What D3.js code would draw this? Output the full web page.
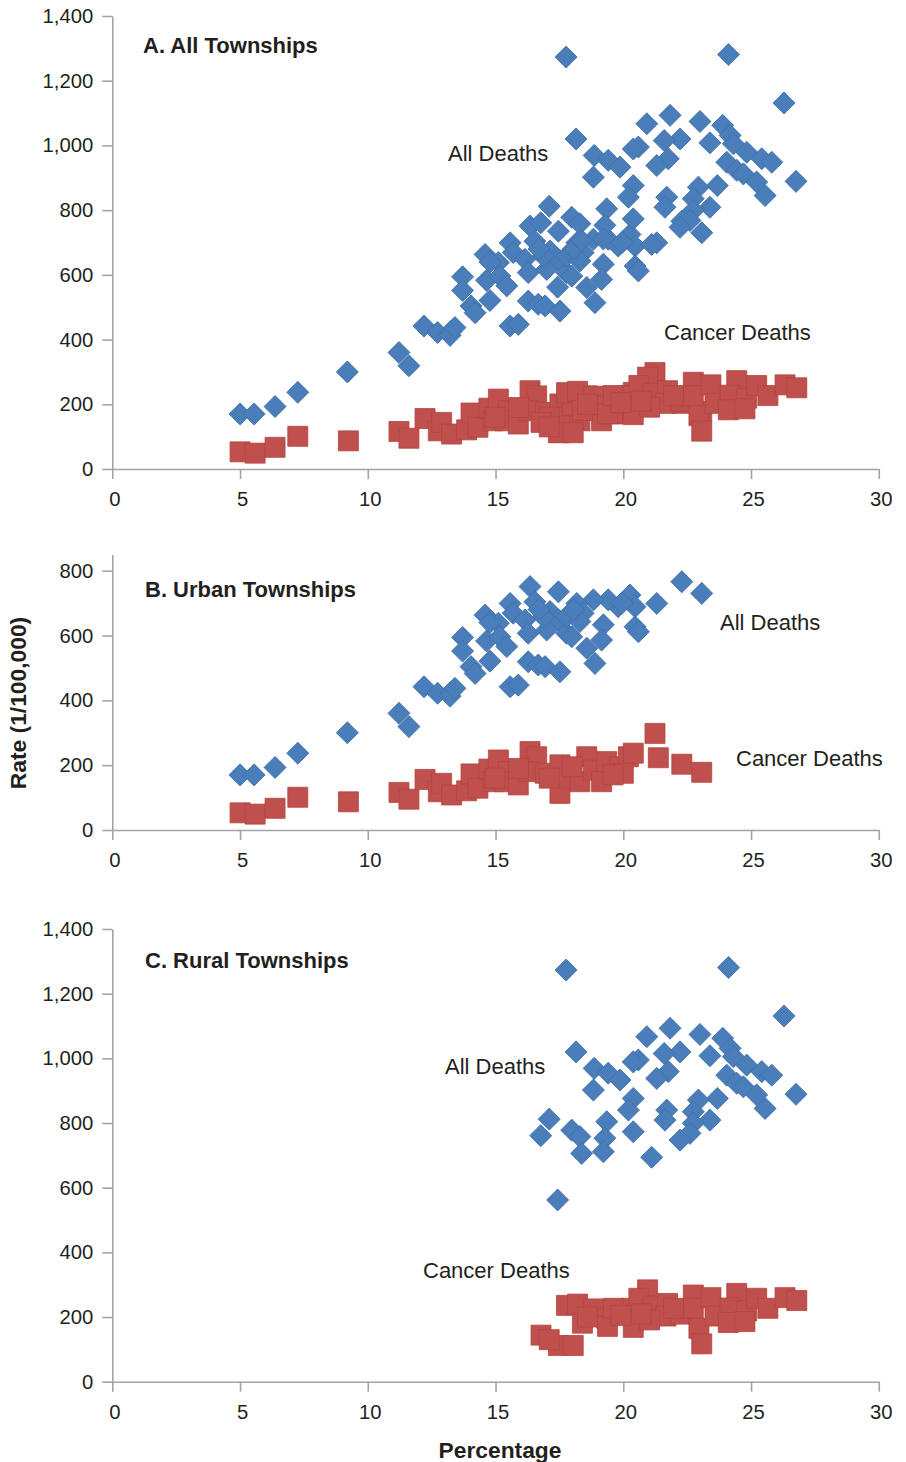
<!DOCTYPE html>
<html>
<head>
<meta charset="utf-8">
<script src="https://cdn.jsdelivr.net/npm/d3@7"></script>
<style>
  html, body { margin: 0; padding: 0; background: #fff; }
  svg { display: block; font-family: "Liberation Sans", Arial, sans-serif; }
</style>
</head>
<body>
<svg id="chart" width="906" height="1462"></svg>
<script>
// ---- Data (x = Percentage, y = Rate per 100,000) ----
const urbanAllDeaths = [
  [5.00,170],[5.55,170],[6.37,193],[7.26,237],[9.20,300],[11.22,360],[11.61,319],
  [12.20,442],[12.73,422],[13.26,426],[13.22,413],[13.41,437],[13.71,594],[13.71,552],
  [14.04,504],[14.20,483],[14.59,663],[14.65,583],[14.78,521],[15.57,442],[15.89,447],
  [15.11,638],[15.17,596],[15.57,699],[15.69,669],[15.44,566],[16.35,751],[16.54,704],
  [16.15,648],[16.28,607],[16.28,519],[16.67,509],[16.94,504],[17.46,735],[17.13,674],
  [17.46,648],[17.00,617],[17.52,488],[17.78,607],[22.29,766],[23.07,730],[21.31,699],
  [20.26,725],[20.46,689],[19.80,689],[19.41,710],[18.83,710],[18.18,699],[20.46,627],
  [20.59,612],[19.22,633],[19.15,586],[18.57,561],[18.89,514],[17.98,596],[17.78,658],
  [18.43,669],[16.87,658],[18.30,643],[14.78,640],[16.70,680],[18.05,680],[19.95,700]
];
const urbanCancerDeaths = [
  [5.00,53],[5.59,49],[6.37,67],[7.26,101],[9.24,87],[11.22,116],[11.61,95],[12.24,156],
  [12.76,118],[12.89,144],[13.28,108],[13.87,121],[14.04,173],[14.31,129],[14.74,188],
  [14.91,149],[15.11,216],[15.50,180],[15.37,149],[15.89,139],[16.35,242],[16.61,226],
  [16.28,180],[16.94,175],[17.52,201],[17.52,113],[17.78,160],[18.30,149],[18.57,226],
  [18.83,185],[19.15,149],[19.35,211],[19.87,195],[20.20,226],[20.39,237],[20.00,175],
  [21.24,298],[21.37,223],[22.29,203],[23.07,178],[14.98,160],[15.90,190],[17.10,160],
  [18.00,195],[19.60,170]
];
const ruralAllDeaths = [
  [17.76,1273],[24.12,1281],[26.29,1131],[18.15,1020],[20.92,1067],[21.83,1093],[23.00,1074],
  [23.89,1062],[24.18,1031],[24.31,1005],[23.39,1008],[22.22,1020],[21.60,1015],[20.59,995],
  [20.39,989],[21.76,959],[21.31,938],[18.86,969],[19.41,954],[19.87,933],[18.83,902],
  [24.83,979],[25.42,959],[25.81,948],[24.05,948],[24.44,923],[24.70,912],[25.22,887],
  [25.55,845],[26.76,889],[23.68,876],[22.94,871],[20.39,876],[20.20,840],[21.70,840],
  [21.63,809],[22.74,835],[23.39,809],[22.74,799],[22.61,768],[22.22,747],[17.10,812],
  [16.77,761],[17.98,778],[18.30,758],[18.37,706],[19.35,804],[19.28,753],[19.22,711],
  [20.39,773],[21.11,694],[17.43,562]
];
const ruralCancerDeaths = [
  [16.78,144],[17.46,112],[18.04,112],[17.78,236],[18.21,240],[18.85,225],[18.40,181],
  [19.35,196],[19.38,171],[20.30,227],[20.39,168],[20.95,284],[20.61,258],[21.17,234],
  [21.73,242],[21.67,203],[22.26,209],[22.74,268],[22.74,227],[22.96,165],[23.07,117],
  [23.43,260],[23.59,203],[24.44,273],[24.18,228],[24.11,183],[24.83,219],[25.22,258],
  [25.66,227],[26.33,260],[26.79,251],[24.76,186],[19.61,227],[21.96,227],[21.03,191],
  [17.10,130],[18.60,200],[19.90,205],[20.70,210]
];
const xTicks = [0, 5, 10, 15, 20, 25, 30];
const yTicksTall = [0, 200, 400, 600, 800, 1000, 1200, 1400];
const yTicksShort = [0, 200, 400, 600, 800];
const panelTitles = ["A. All Townships", "B. Urban Townships", "C. Rural Townships"];
const seriesLabels = ["All Deaths", "Cancer Deaths"];

// ---- Layout ----
const svg = d3.select("#chart");
const TEXT = "#231f20";
const AXIS = "#a3a3a3";
const BLUE = "#4a7ebb", BLUE_EDGE = "#3f6fa6";
const RED = "#c0504d", RED_EDGE = "#b4443f";

const x = d3.scaleLinear().domain([0, 30]).range([112.3, 878.8]);

const panels = [
  { title: panelTitles[0], yMax: 1400, ticks: yTicksTall, yRange: [469, 16],
    all: urbanAllDeaths.concat(ruralAllDeaths), cancer: urbanCancerDeaths.concat(ruralCancerDeaths),
    titlePos: [143, 53], allLbl: [448, 153], canLbl: [664, 332] },
  { title: panelTitles[1], yMax: 850, ticks: yTicksShort, yRange: [830, 554.5],
    all: urbanAllDeaths, cancer: urbanCancerDeaths,
    titlePos: [145, 597], allLbl: [720, 622], canLbl: [736, 758] },
  { title: panelTitles[2], yMax: 1400, ticks: yTicksTall, yRange: [1381.7, 929],
    all: ruralAllDeaths, cancer: ruralCancerDeaths,
    titlePos: [145, 968], allLbl: [445, 1066], canLbl: [423, 1270] }
];

const diamond = d3.symbol().type(d3.symbolSquare).size(15.6 * 15.6);
const square = d3.symbol().type(d3.symbolSquare).size(20 * 20);

panels.forEach(p => {
  const y = d3.scaleLinear().domain([0, p.yMax]).range(p.yRange);
  const g = svg.append("g");

  // Y axis
  const yAxis = d3.axisLeft(y).tickValues(p.ticks).tickFormat(d3.format(","))
    .tickSize(10).tickSizeOuter(0).tickPadding(9);
  const ya = g.append("g").attr("transform", `translate(${x(0)},0)`).call(yAxis);

  // X axis
  const xAxis = d3.axisBottom(x).tickValues(xTicks).tickFormat(d3.format("d"))
    .tickSize(10).tickSizeOuter(0).tickPadding(13);
  const xa = g.append("g").attr("transform", `translate(0,${y(0)})`).call(xAxis);

  [ya, xa].forEach(a => {
    a.selectAll("path, line").attr("stroke", AXIS).attr("stroke-width", 1.6);
    a.selectAll("text").attr("fill", TEXT).style("font-size", "20.3px")
      .style("font-family", '"Liberation Sans", Arial, sans-serif');
  });
  xa.selectAll(".tick text").attr("dx", "0.1em");

  // All deaths: diamonds
  g.append("g").selectAll("path").data(p.all).join("path")
    .attr("d", diamond)
    .attr("transform", d => `translate(${x(d[0])},${y(d[1])}) rotate(45)`)
    .attr("fill", BLUE).attr("stroke", BLUE_EDGE).attr("stroke-width", 0.8);

  // Cancer deaths: squares
  g.append("g").selectAll("path").data(p.cancer).join("path")
    .attr("d", square)
    .attr("transform", d => `translate(${x(d[0])},${y(d[1])})`)
    .attr("fill", RED).attr("stroke", RED_EDGE).attr("stroke-width", 0.8);

  // Panel title
  g.append("text").attr("x", p.titlePos[0]).attr("y", p.titlePos[1])
    .attr("fill", TEXT).style("font-size", "22px").style("font-weight", "bold")
    .text(p.title);

  // Series labels
  g.append("text").attr("x", p.allLbl[0]).attr("y", p.allLbl[1]).attr("dy", "0.35em")
    .attr("fill", TEXT).style("font-size", "22px").text(seriesLabels[0]);
  g.append("text").attr("x", p.canLbl[0]).attr("y", p.canLbl[1]).attr("dy", "0.35em")
    .attr("fill", TEXT).style("font-size", "22px").text(seriesLabels[1]);
});

// Axis titles
svg.append("text")
  .attr("transform", "translate(18,703) rotate(-90)")
  .attr("text-anchor", "middle").attr("dy", "0.35em")
  .attr("fill", TEXT).style("font-size", "22.8px").style("font-weight", "bold")
  .text("Rate (1/100,000)");
svg.append("text")
  .attr("x", 500).attr("y", 1450).attr("text-anchor", "middle").attr("dy", "0.35em")
  .attr("fill", TEXT).style("font-size", "22.8px").style("font-weight", "bold")
  .text("Percentage");
</script>
</body>
</html>
